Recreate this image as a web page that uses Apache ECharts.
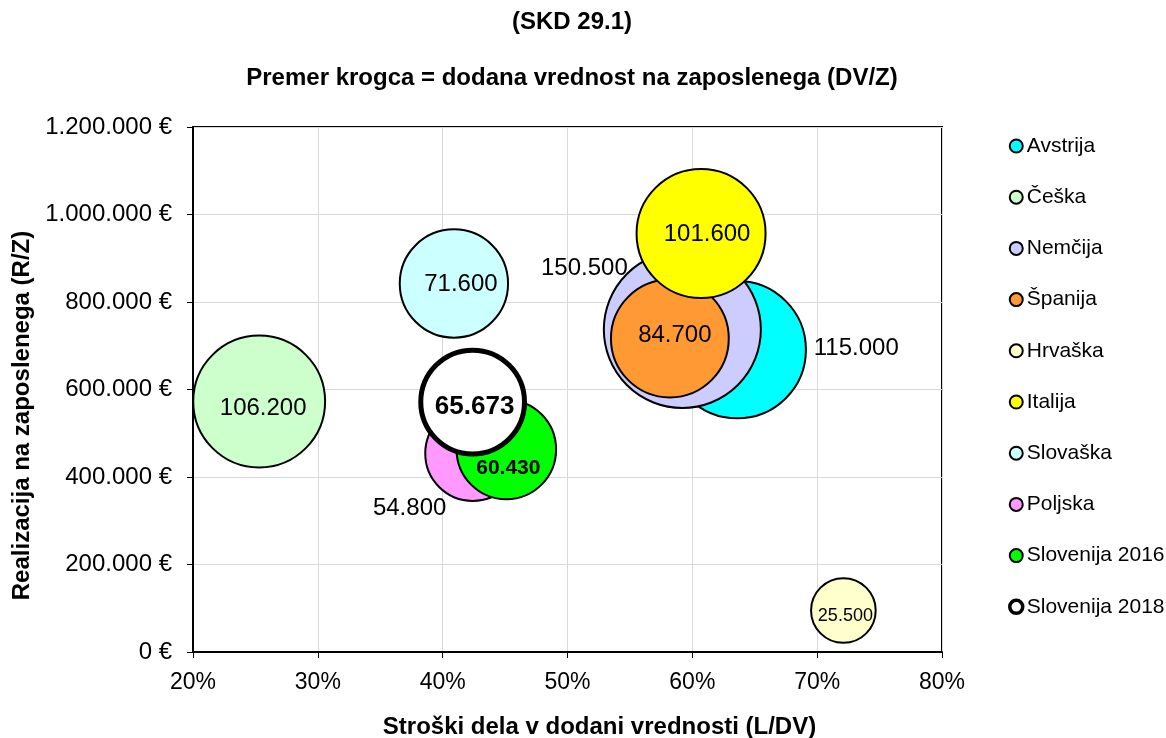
<!DOCTYPE html>
<html>
<head>
<meta charset="utf-8">
<script src="https://cdn.jsdelivr.net/npm/echarts@6/dist/echarts.min.js"></script>
<style>
html,body{margin:0;padding:0;background:#fff;}
#chart{width:1166px;height:738px;}
</style>
</head>
<body>
<div id="chart"></div>
<script>
// ---- data ----
const countries = ['Avstrija','Češka','Nemčija','Španija','Hrvaška','Italija','Slovaška','Poljska','Slovenija 2016','Slovenija 2018'];
const laborShare = [63.6, 25.3, 59.2, 58.2, 72.1, 60.7, 40.9, 42.4, 45.1, 42.4];           // L/DV in %
const revenuePerEmployee = [691000, 572600, 737100, 716600, 94900, 956600, 842300, 453700, 462900, 571400]; // R/Z in €
const valueAddedPerEmployee = [115000, 106200, 150500, 84700, 25500, 101600, 71600, 54800, 60430, 65673]; // DV/Z in €
const xTicks = [20, 30, 40, 50, 60, 70, 80];
const yTicks = [0, 200000, 400000, 600000, 800000, 1000000, 1200000];

// ---- styles ----
const colors = ['#00FFFF','#CCFFCC','#CCCCFF','#FF9933','#FFFFCC','#FFFF00','#CCFFFF','#FF99FF','#00FF00','#FFFFFF'];
const labelStyle = [
  {offset:[119,-1], fontSize:24, fontWeight:'normal'},
  {offset:[4,7], fontSize:24, fontWeight:'normal'},
  {offset:[-98,-61], fontSize:24, fontWeight:'normal'},
  {offset:[5,-3], fontSize:24, fontWeight:'normal'},
  {offset:[2,6], fontSize:18, fontWeight:'normal'},
  {offset:[6,1], fontSize:24, fontWeight:'normal'},
  {offset:[7,1], fontSize:24, fontWeight:'normal'},
  {offset:[-63,55], fontSize:24, fontWeight:'normal'},
  {offset:[2,19], fontSize:21, fontWeight:'bold'},
  {offset:[2,5], fontSize:26, fontWeight:'bold'}
];
const borderWidths = [2,2,2,2,2,2,2,2,2,5];
const FONT = '"Liberation Sans", Arial, sans-serif';

function fmtThousands(n){
  return String(n).replace(/\B(?=(\d{3})+(?!\d))/g, '.');
}
function bubbleDiameter(v){ return 12.8 * Math.sqrt(v / 1000); }

const series = countries.map((name, i) => ({
  name: name,
  type: 'scatter',
  data: [[laborShare[i], revenuePerEmployee[i], valueAddedPerEmployee[i]]],
  symbol: 'circle',
  symbolSize: d => bubbleDiameter(d[2]),
  itemStyle: {color: colors[i], borderColor: '#000', borderWidth: borderWidths[i], opacity: 1},
  label: {
    show: true,
    position: 'inside',
    offset: labelStyle[i].offset,
    formatter: p => fmtThousands(p.value[2]),
    color: '#000',
    fontFamily: FONT,
    fontSize: labelStyle[i].fontSize,
    fontWeight: labelStyle[i].fontWeight
  },
  emphasis: {disabled: true},
  z: 2 + i
}));

const chart = echarts.init(document.getElementById('chart'), null, {renderer: 'canvas'});
chart.setOption({
  animation: false,
  backgroundColor: '#fff',
  title: [
    {text: '(SKD 29.1)', left: 572, top: 10, textAlign: 'center', padding: 0,
     textStyle: {fontFamily: FONT, fontSize: 24, fontWeight: 'bold', color: '#000'}},
    {text: 'Premer krogca = dodana vrednost na zaposlenega (DV/Z)', left: 572, top: 66, textAlign: 'center', padding: 0,
     textStyle: {fontFamily: FONT, fontSize: 24, fontWeight: 'bold', color: '#000'}}
  ],
  grid: {left: 193, right: 224, top: 127, bottom: 86, show: true, borderColor: '#000', borderWidth: 2,
         backgroundColor: 'transparent', containLabel: false, outerBoundsMode: 'none'},
  legend: {
    orient: 'vertical',
    left: 1008,
    top: 134,
    padding: 0,
    itemWidth: 13,
    itemHeight: 13,
    itemGap: 27.2,
    icon: 'circle',
    selectedMode: false,
    textStyle: {fontFamily: FONT, fontSize: 21, color: '#000', lineHeight: 24, padding: [0,0,0,-1]},
    data: countries.map((n, i) => ({name: n, itemStyle: {borderColor: '#000', borderWidth: i === 9 ? 3.5 : 2}}))
  },
  xAxis: {
    type: 'value', min: xTicks[0], max: xTicks[xTicks.length-1], interval: 10,
    name: 'Stroški dela v dodani vrednosti (L/DV)', nameLocation: 'middle', nameGap: 63,
    nameTextStyle: {fontFamily: FONT, fontSize: 24, fontWeight: 'bold', color: '#000', padding: [0,0,0,64]},
    axisLine: {show: true, onZero: false, lineStyle: {color: '#000', width: 2}},
    axisTick: {show: true, inside: false, length: 6, lineStyle: {color: '#000', width: 1}},
    axisLabel: {formatter: v => v + '%', fontFamily: FONT, fontSize: 23, color: '#000', margin: 19},
    splitLine: {show: true, lineStyle: {color: '#d9d9d9', width: 1}}
  },
  yAxis: {
    type: 'value', min: yTicks[0], max: yTicks[yTicks.length-1], interval: 200000,
    name: 'Realizacija na zaposlenega (R/Z)', nameLocation: 'middle', nameGap: 159, nameRotate: 90,
    nameTextStyle: {fontFamily: FONT, fontSize: 24, fontWeight: 'bold', color: '#000', padding: [0,52,0,0]},
    axisLine: {show: true, onZero: false, lineStyle: {color: '#000', width: 2}},
    axisTick: {show: true, inside: false, length: 6, lineStyle: {color: '#000', width: 1}},
    axisLabel: {formatter: v => fmtThousands(v) + ' €', fontFamily: FONT, fontSize: 24, color: '#000', margin: 21},
    splitLine: {show: true, lineStyle: {color: '#d9d9d9', width: 1}}
  },
  series: series
});
</script>
</body>
</html>
